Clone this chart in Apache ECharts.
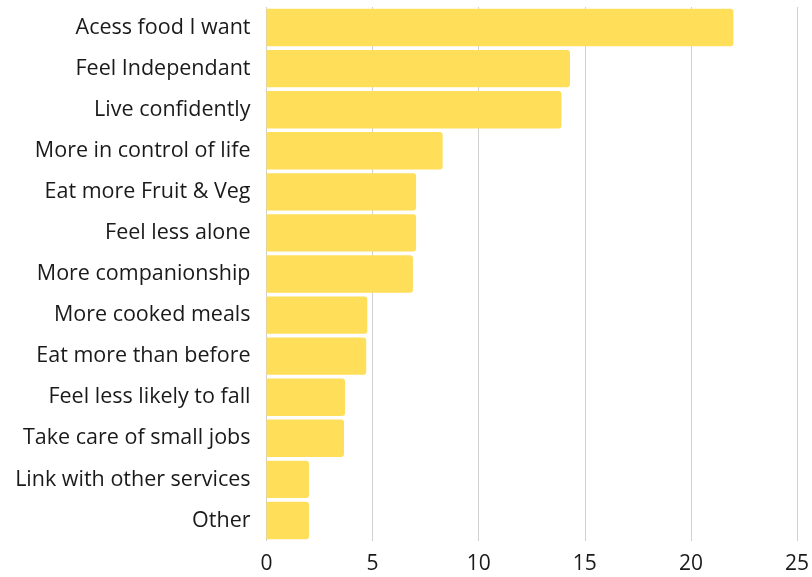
<!DOCTYPE html>
<html>
<head>
<meta charset="utf-8">
<script src="https://cdn.jsdelivr.net/npm/echarts@6/dist/echarts.min.js"></script>
<style>
  html, body { margin: 0; padding: 0; background: #ffffff; }
  #chart { width: 812px; height: 577px; }
</style>
</head>
<body>
<div id="chart"></div>
<script>
// Reported outcomes, listed top to bottom
const categories = [
  'Acess food I want',
  'Feel Independant',
  'Live confidently',
  'More in control of life',
  'Eat more Fruit & Veg',
  'Feel less alone',
  'More companionship',
  'More cooked meals',
  'Eat more than before',
  'Feel less likely to fall',
  'Take care of small jobs',
  'Link with other services',
  'Other'
];
const values = [22, 14.3, 13.9, 8.3, 7.05, 7.05, 6.9, 4.75, 4.7, 3.7, 3.65, 2.0, 2.0];
const axisMin = 0;
const axisMax = 25;
const axisStep = 5;

const chart = echarts.init(document.getElementById('chart'), null, { renderer: 'canvas' });
const fontFamily = '"Open Sans", "Noto Sans", sans-serif';

chart.setOption({
  animation: false,
  backgroundColor: '#ffffff',
  grid: { left: 266.5, right: 11.5, top: 7, bottom: 36, containLabel: false },
  xAxis: {
    type: 'value',
    min: axisMin,
    max: axisMax,
    interval: axisStep,
    axisLine: { show: false },
    axisTick: { show: false },
    splitLine: { show: true, lineStyle: { color: '#d0d0d0', width: 1 } },
    axisLabel: { color: '#1a1a1a', fontSize: 21, fontFamily: fontFamily, margin: 13 }
  },
  yAxis: {
    type: 'category',
    data: categories,
    inverse: true,
    axisLine: { show: false },
    axisTick: { show: false },
    axisLabel: { color: '#1a1a1a', fontSize: 21.5, fontFamily: fontFamily, margin: 16, padding: [3, 0, 0, 0] }
  },
  series: [{
    type: 'bar',
    data: values,
    barCategoryGap: '9%',
    itemStyle: { color: '#FFDE59', borderRadius: [0, 3, 3, 0] }
  }]
});
</script>
</body>
</html>
